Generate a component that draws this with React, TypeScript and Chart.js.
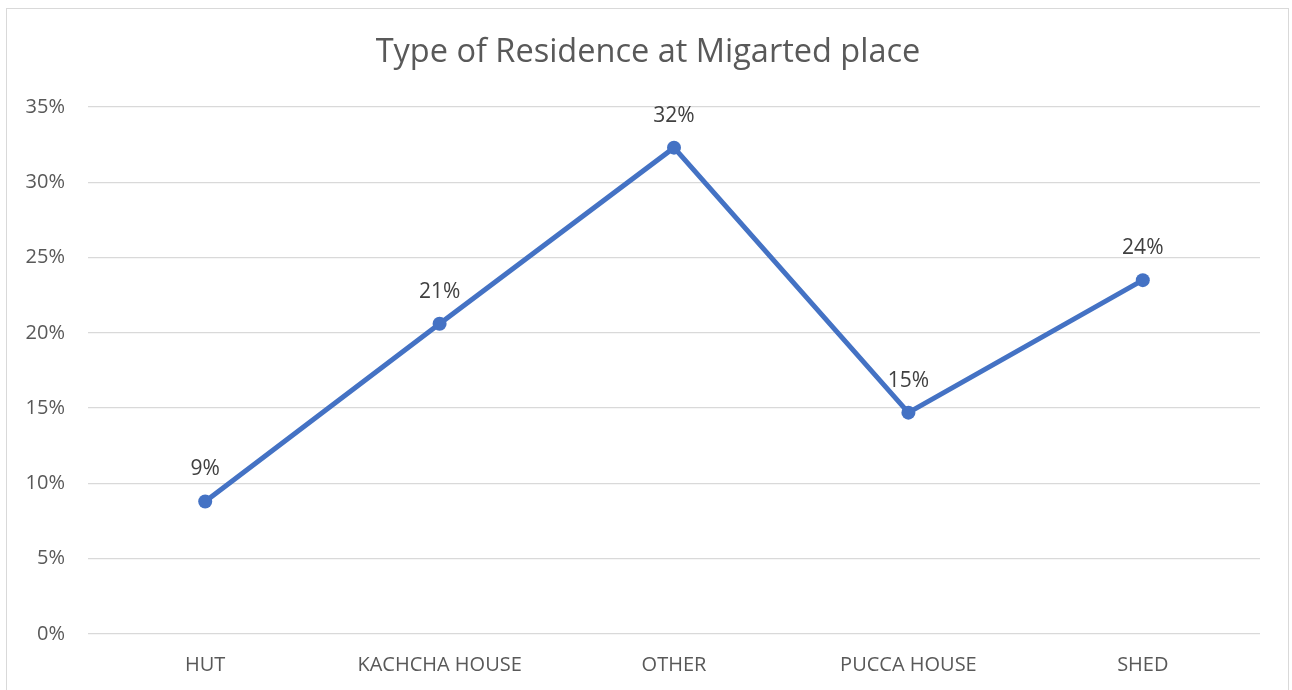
import React, { useEffect, useRef } from "react";
import { Chart, registerables } from "chart.js";

Chart.register(...registerables);

const categories = ["HUT", "KACHCHA HOUSE", "OTHER", "PUCCA HOUSE", "SHED"];
const values = [8.8, 20.6, 32.3, 14.7, 23.5];
const yTicks = [0, 5, 10, 15, 20, 25, 30, 35];
const titleText = "Type of Residence at Migarted place";

const FONT = "'Open Sans', 'Noto Sans', sans-serif";

const dataLabelPlugin = {
  id: "dataLabels",
  afterDatasetsDraw(chart: any) {
    const ctx = chart.ctx;
    const meta = chart.getDatasetMeta(0);
    ctx.save();
    ctx.font = `21px ${FONT}`;
    ctx.fillStyle = "#404040";
    ctx.textAlign = "center";
    ctx.textBaseline = "middle";
    meta.data.forEach((pt: any, i: number) => {
      ctx.fillText(Math.round(values[i]) + "%", pt.x, pt.y - 32);
    });
    ctx.restore();
  },
};

export default function App() {
  const ref = useRef<HTMLCanvasElement>(null);
  useEffect(() => {
    if (!ref.current) return;
    const chart = new Chart(ref.current, {
      type: "line",
      data: {
        labels: categories,
        datasets: [
          {
            data: values,
            borderColor: "#4472C4",
            backgroundColor: "#4472C4",
            borderWidth: 5,
            pointRadius: 7,
            pointBorderWidth: 0,
            pointBackgroundColor: "#4472C4",
            tension: 0,
          },
        ],
      },
      options: {
        animation: false,
        responsive: false,
        layout: { padding: { left: 4, right: 0, top: 0, bottom: 0 } },
        plugins: {
          legend: { display: false },
          tooltip: { enabled: false },
          title: {
            display: true,
            text: titleText,
            color: "#595959",
            font: { family: FONT, size: 32.5, weight: "normal" },
            padding: { top: 33, bottom: 35 },
          },
        },
        scales: {
          x: {
            offset: true,
            grid: { display: false, drawTicks: false },
            border: { display: false },
            ticks: {
              color: "#595959",
              font: { family: FONT, size: 20 },
              padding: 19,
              maxRotation: 0,
            },
            afterFit: (s: any) => {
              s.height = 56;
            },
          },
          y: {
            min: 0,
            max: 35,
            afterBuildTicks: (s: any) => {
              s.ticks = yTicks.map((v) => ({ value: v }));
            },
            grid: { color: "#d9d9d9", lineWidth: 1.3, drawTicks: false },
            border: { display: false },
            ticks: {
              color: "#595959",
              font: { family: FONT, size: 20 },
              padding: 23,
              callback: (v: any) => v + "%",
            },
            afterFit: (s: any) => {
              s.width = 84;
            },
          },
          yRight: {
            position: "right",
            display: true,
            min: 0,
            max: 35,
            grid: { display: false, drawTicks: false },
            border: { display: false },
            ticks: { display: false },
            afterFit: (s: any) => {
              s.width = 32;
            },
          },
        },
      },
      plugins: [dataLabelPlugin],
    });
    return () => chart.destroy();
  }, []);

  return (
    <div style={{ position: "absolute", left: 0, top: 0, width: 1292, height: 690, overflow: "hidden", background: "#fff" }}>
      <div
        style={{
          position: "absolute",
          left: 6,
          top: 8,
          width: 1283,
          height: 682,
          boxSizing: "border-box",
          border: "1.5px solid #d9d9d9",
          borderBottom: "none",
        }}
      />
      <canvas ref={ref} width={1292} height={690} style={{ position: "absolute", left: 0, top: 0 }} />
    </div>
  );
}
